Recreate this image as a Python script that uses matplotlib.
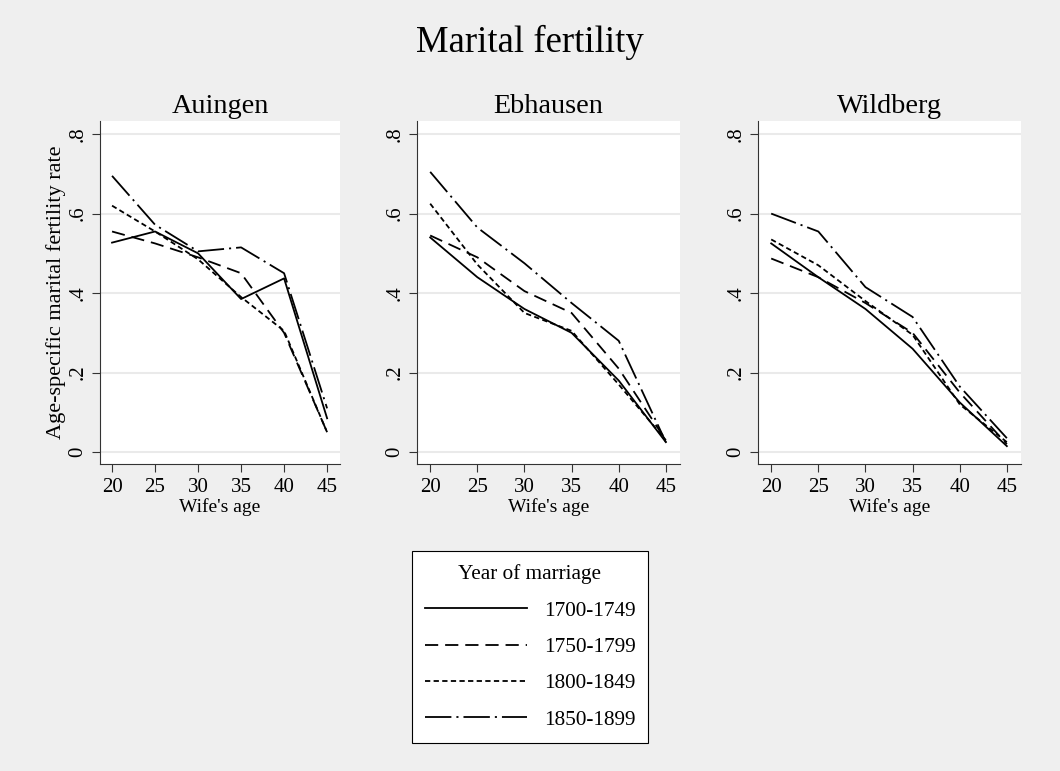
import numpy as np
import matplotlib
matplotlib.use("Agg")
from matplotlib import pyplot as plt
from matplotlib.lines import Line2D

plt.rcParams['font.family'] = ['Liberation Serif', 'DejaVu Serif']
plt.rcParams['lines.scale_dashes'] = False

# Data
ages = [20, 25, 30, 35, 40, 45]
villages = ["Auingen", "Ebhausen", "Wildberg"]
cohorts = ["1700-1749", "1750-1799", "1800-1849", "1850-1899"]

auingen_1700 = [0.527, 0.555, 0.500, 0.385, 0.437, 0.085]
auingen_1750 = [0.555, 0.525, 0.490, 0.450, 0.300, 0.050]
auingen_1800 = [0.620, 0.555, 0.485, 0.390, 0.305, 0.050]
auingen_1850 = [0.695, 0.572, 0.505, 0.515, 0.450, 0.110]

ebhausen_1700 = [0.540, 0.440, 0.360, 0.300, 0.180, 0.025]
ebhausen_1750 = [0.545, 0.490, 0.405, 0.350, 0.210, 0.030]
ebhausen_1800 = [0.625, 0.472, 0.350, 0.305, 0.170, 0.030]
ebhausen_1850 = [0.705, 0.565, 0.475, 0.375, 0.280, 0.025]

wildberg_1700 = [0.525, 0.440, 0.360, 0.260, 0.125, 0.015]
wildberg_1750 = [0.487, 0.440, 0.375, 0.300, 0.150, 0.020]
wildberg_1800 = [0.535, 0.470, 0.380, 0.295, 0.120, 0.025]
wildberg_1850 = [0.600, 0.555, 0.415, 0.340, 0.165, 0.035]

rates = {
    "Auingen": [auingen_1700, auingen_1750, auingen_1800, auingen_1850],
    "Ebhausen": [ebhausen_1700, ebhausen_1750, ebhausen_1800, ebhausen_1850],
    "Wildberg": [wildberg_1700, wildberg_1750, wildberg_1800, wildberg_1850],
}

# line styles (solid, long dash, short dash, long dash-dot)
dash_styles = ['-', (0, (9.5, 5)), (0, (3.8, 2.4)), (0, (19, 3.6, 1.5, 3.6))]

bg = '#efefef'
fig = plt.figure(figsize=(10.6, 7.71), dpi=100, facecolor=bg)

positions = [
    [100 / 1060, 1 - 464 / 771, 240 / 1060, 343 / 771],
    [417 / 1060, 1 - 464 / 771, 263 / 1060, 343 / 771],
    [758 / 1060, 1 - 464 / 771, 263 / 1060, 343 / 771],
]

for i, name in enumerate(villages):
    ax = fig.add_axes(positions[i])
    ax.set_facecolor('white')
    for j, ys in enumerate(rates[name]):
        ax.plot(ages, ys, color='black', lw=1.3, linestyle=dash_styles[j])
    ax.set_ylim(-0.03, 0.833)
    ax.set_xlim(18.6, 46.5)
    ax.set_yticks([0, 0.2, 0.4, 0.6, 0.8])
    ax.set_yticklabels(["0", ".2", ".4", ".6", ".8"], rotation=90, va='center')
    ax.set_xticks(ages)
    ax.grid(axis='y', color='#eaeaea', lw=1.5)
    ax.set_axisbelow(True)
    for side in ['top', 'right']:
        ax.spines[side].set_visible(False)
    ax.spines['left'].set_color('#333333')
    ax.spines['bottom'].set_color('#333333')
    ax.tick_params(labelsize=15, length=6, color='#333333', pad=4)
    ax.tick_params(axis='y', pad=3)
    ax.set_xlabel("Wife's age", fontsize=14, labelpad=1)
    ax.set_title(name, fontsize=20.3, pad=6)
    if i == 0:
        ax.set_ylabel("Age-specific marital fertility rate", fontsize=16, labelpad=2)

fig.text(0.5, 1 - 42 / 771, "Marital fertility", ha='center', va='center', fontsize=26.5)

handles = [Line2D([], [], color='black', lw=1.3, linestyle=s) for s in dash_styles]
leg = fig.legend(handles, cohorts, title="Year of marriage", loc='center',
                 bbox_to_anchor=(530 / 1060, 1 - 647 / 771), fontsize=15.3,
                 title_fontsize=15.3, frameon=True, fancybox=False,
                 edgecolor='black', facecolor='white', framealpha=1,
                 handlelength=4.8, handletextpad=0.8, labelspacing=0.78,
                 borderpad=0.6, borderaxespad=0)
leg.get_frame().set_linewidth(0.8)

plt.savefig("out.png", dpi=100, facecolor=bg)
